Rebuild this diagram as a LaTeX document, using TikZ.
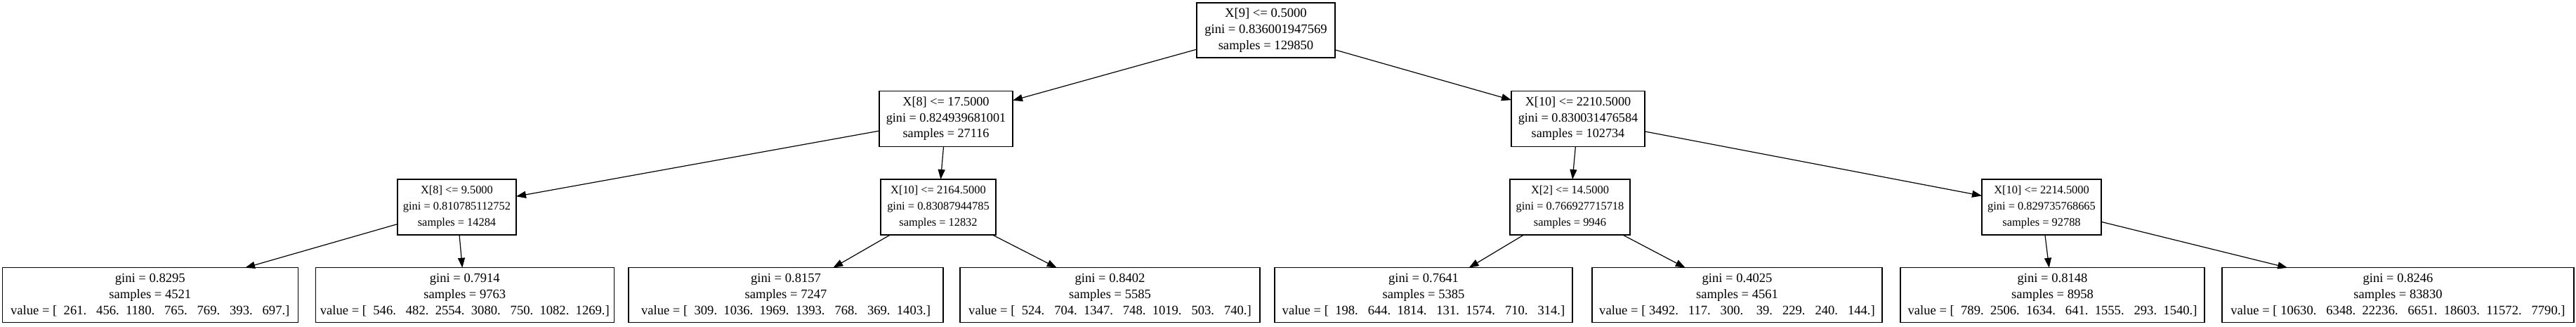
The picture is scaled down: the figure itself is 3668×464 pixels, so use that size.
\documentclass[tikz,border=0pt]{standalone}
\usepackage{fontspec}
\setmainfont{Liberation Serif}
\usetikzlibrary{arrows.meta}
\begin{document}
\begin{tikzpicture}[x=1pt,y=1pt,
  tbox/.style={draw=black, line width=1.3pt, rectangle, inner sep=0pt, outer sep=0pt, align=center,
    font=\fontsize{#1}{22.6}\selectfont},
  tbox/.default=18.6,
  arr/.style={-{Triangle[length=14pt,width=10pt]}, line width=1.2pt, draw=black}]
\useasboundingbox (0,0) rectangle (3668,-464);
% root
\node[tbox, minimum width=197pt, minimum height=78pt] (root) at (1802.5,-43)
  {X[9] <= 0.5000\\gini = 0.836001947569\\samples = 129850};
% level 1
\node[tbox=18.2, minimum width=190pt, minimum height=78.5pt] (n1) at (1347,-169)
  {X[8] <= 17.5000\\gini = 0.824939681001\\samples = 27116};
\node[tbox=18.2, minimum width=190pt, minimum height=78.5pt] (n2) at (2247,-169)
  {X[10] <= 2210.5000\\gini = 0.830031476584\\samples = 102734};
% level 2
\node[tbox=16.4, minimum width=169pt, minimum height=79pt] (n3) at (650.5,-294.5)
  {X[8] <= 9.5000\\gini = 0.810785112752\\samples = 14284};
\node[tbox=16.4, minimum width=164pt, minimum height=79pt] (n4) at (1336,-294.5)
  {X[10] <= 2164.5000\\gini = 0.83087944785\\samples = 12832};
\node[tbox=16.4, minimum width=171pt, minimum height=79pt] (n5) at (2235.5,-294.5)
  {X[2] <= 14.5000\\gini = 0.766927715718\\samples = 9946};
\node[tbox=16.4, minimum width=170pt, minimum height=79pt] (n6) at (2907,-294.5)
  {X[10] <= 2214.5000\\gini = 0.829735768665\\samples = 92788};
% leaves
\node[tbox, minimum width=421pt, minimum height=77.5pt] (l1) at (213.8,-419.5)
  {gini = 0.8295\\samples = 4521\\value = [\ \ 261.\ \ \ 456.\ \ 1180.\ \ \ 765.\ \ \ 769.\ \ \ 393.\ \ \ 697.]};
\node[tbox, minimum width=425pt, minimum height=77.5pt] (l2) at (661.8,-419.5)
  {gini = 0.7914\\samples = 9763\\value = [\ \ 546.\ \ \ 482.\ \ 2554.\ \ 3080.\ \ \ 750.\ \ 1082.\ \ 1269.]};
\node[tbox, minimum width=448pt, minimum height=77.5pt] (l3) at (1119,-419.5)
  {gini = 0.8157\\samples = 7247\\value = [\ \ 309.\ \ 1036.\ \ 1969.\ \ 1393.\ \ \ 768.\ \ \ 369.\ \ 1403.]};
\node[tbox, minimum width=427pt, minimum height=77.5pt] (l4) at (1580.5,-419.5)
  {gini = 0.8402\\samples = 5585\\value = [\ \ 524.\ \ \ 704.\ \ 1347.\ \ \ 748.\ \ 1019.\ \ \ 503.\ \ \ 740.]};
\node[tbox, minimum width=424pt, minimum height=77.5pt] (l5) at (2027,-419.5)
  {gini = 0.7641\\samples = 5385\\value = [\ \ 198.\ \ \ 644.\ \ 1814.\ \ \ 131.\ \ 1574.\ \ \ 710.\ \ \ 314.]};
\node[tbox, minimum width=413pt, minimum height=77.5pt] (l6) at (2473.5,-419.5)
  {gini = 0.4025\\samples = 4561\\value = [\ 3492.\ \ \ 117.\ \ \ 300.\ \ \ \ 39.\ \ \ 229.\ \ \ 240.\ \ \ 144.]};
\node[tbox, minimum width=433pt, minimum height=77.5pt] (l7) at (2922.5,-419.5)
  {gini = 0.8148\\samples = 8958\\value = [\ \ 789.\ \ 2506.\ \ 1634.\ \ \ 641.\ \ 1555.\ \ \ 293.\ \ 1540.]};
\node[tbox, minimum width=501pt, minimum height=77.5pt] (l8) at (3414.5,-419.5)
  {gini = 0.8246\\samples = 83830\\value = [\ 10630.\ \ \ 6348.\ \ 22236.\ \ \ 6651.\ \ 18603.\ \ 11572.\ \ \ 7790.]};
% edges
\draw[arr] (root) -- (n1);
\draw[arr] (root) -- (n2);
\draw[arr] (n1) -- (n3);
\draw[arr] (n1) -- (n4);
\draw[arr] (n2) -- (n5);
\draw[arr] (n2) -- (n6);
\draw[arr] (n3) -- (l1);
\draw[arr] (n3) -- (l2);
\draw[arr] (n4) -- (l3);
\draw[arr] (n4) -- (l4);
\draw[arr] (n5) -- (l5);
\draw[arr] (n5) -- (l6);
\draw[arr] (n6) -- (l7);
\draw[arr] (n6) -- (l8);
\end{tikzpicture}
\end{document}
